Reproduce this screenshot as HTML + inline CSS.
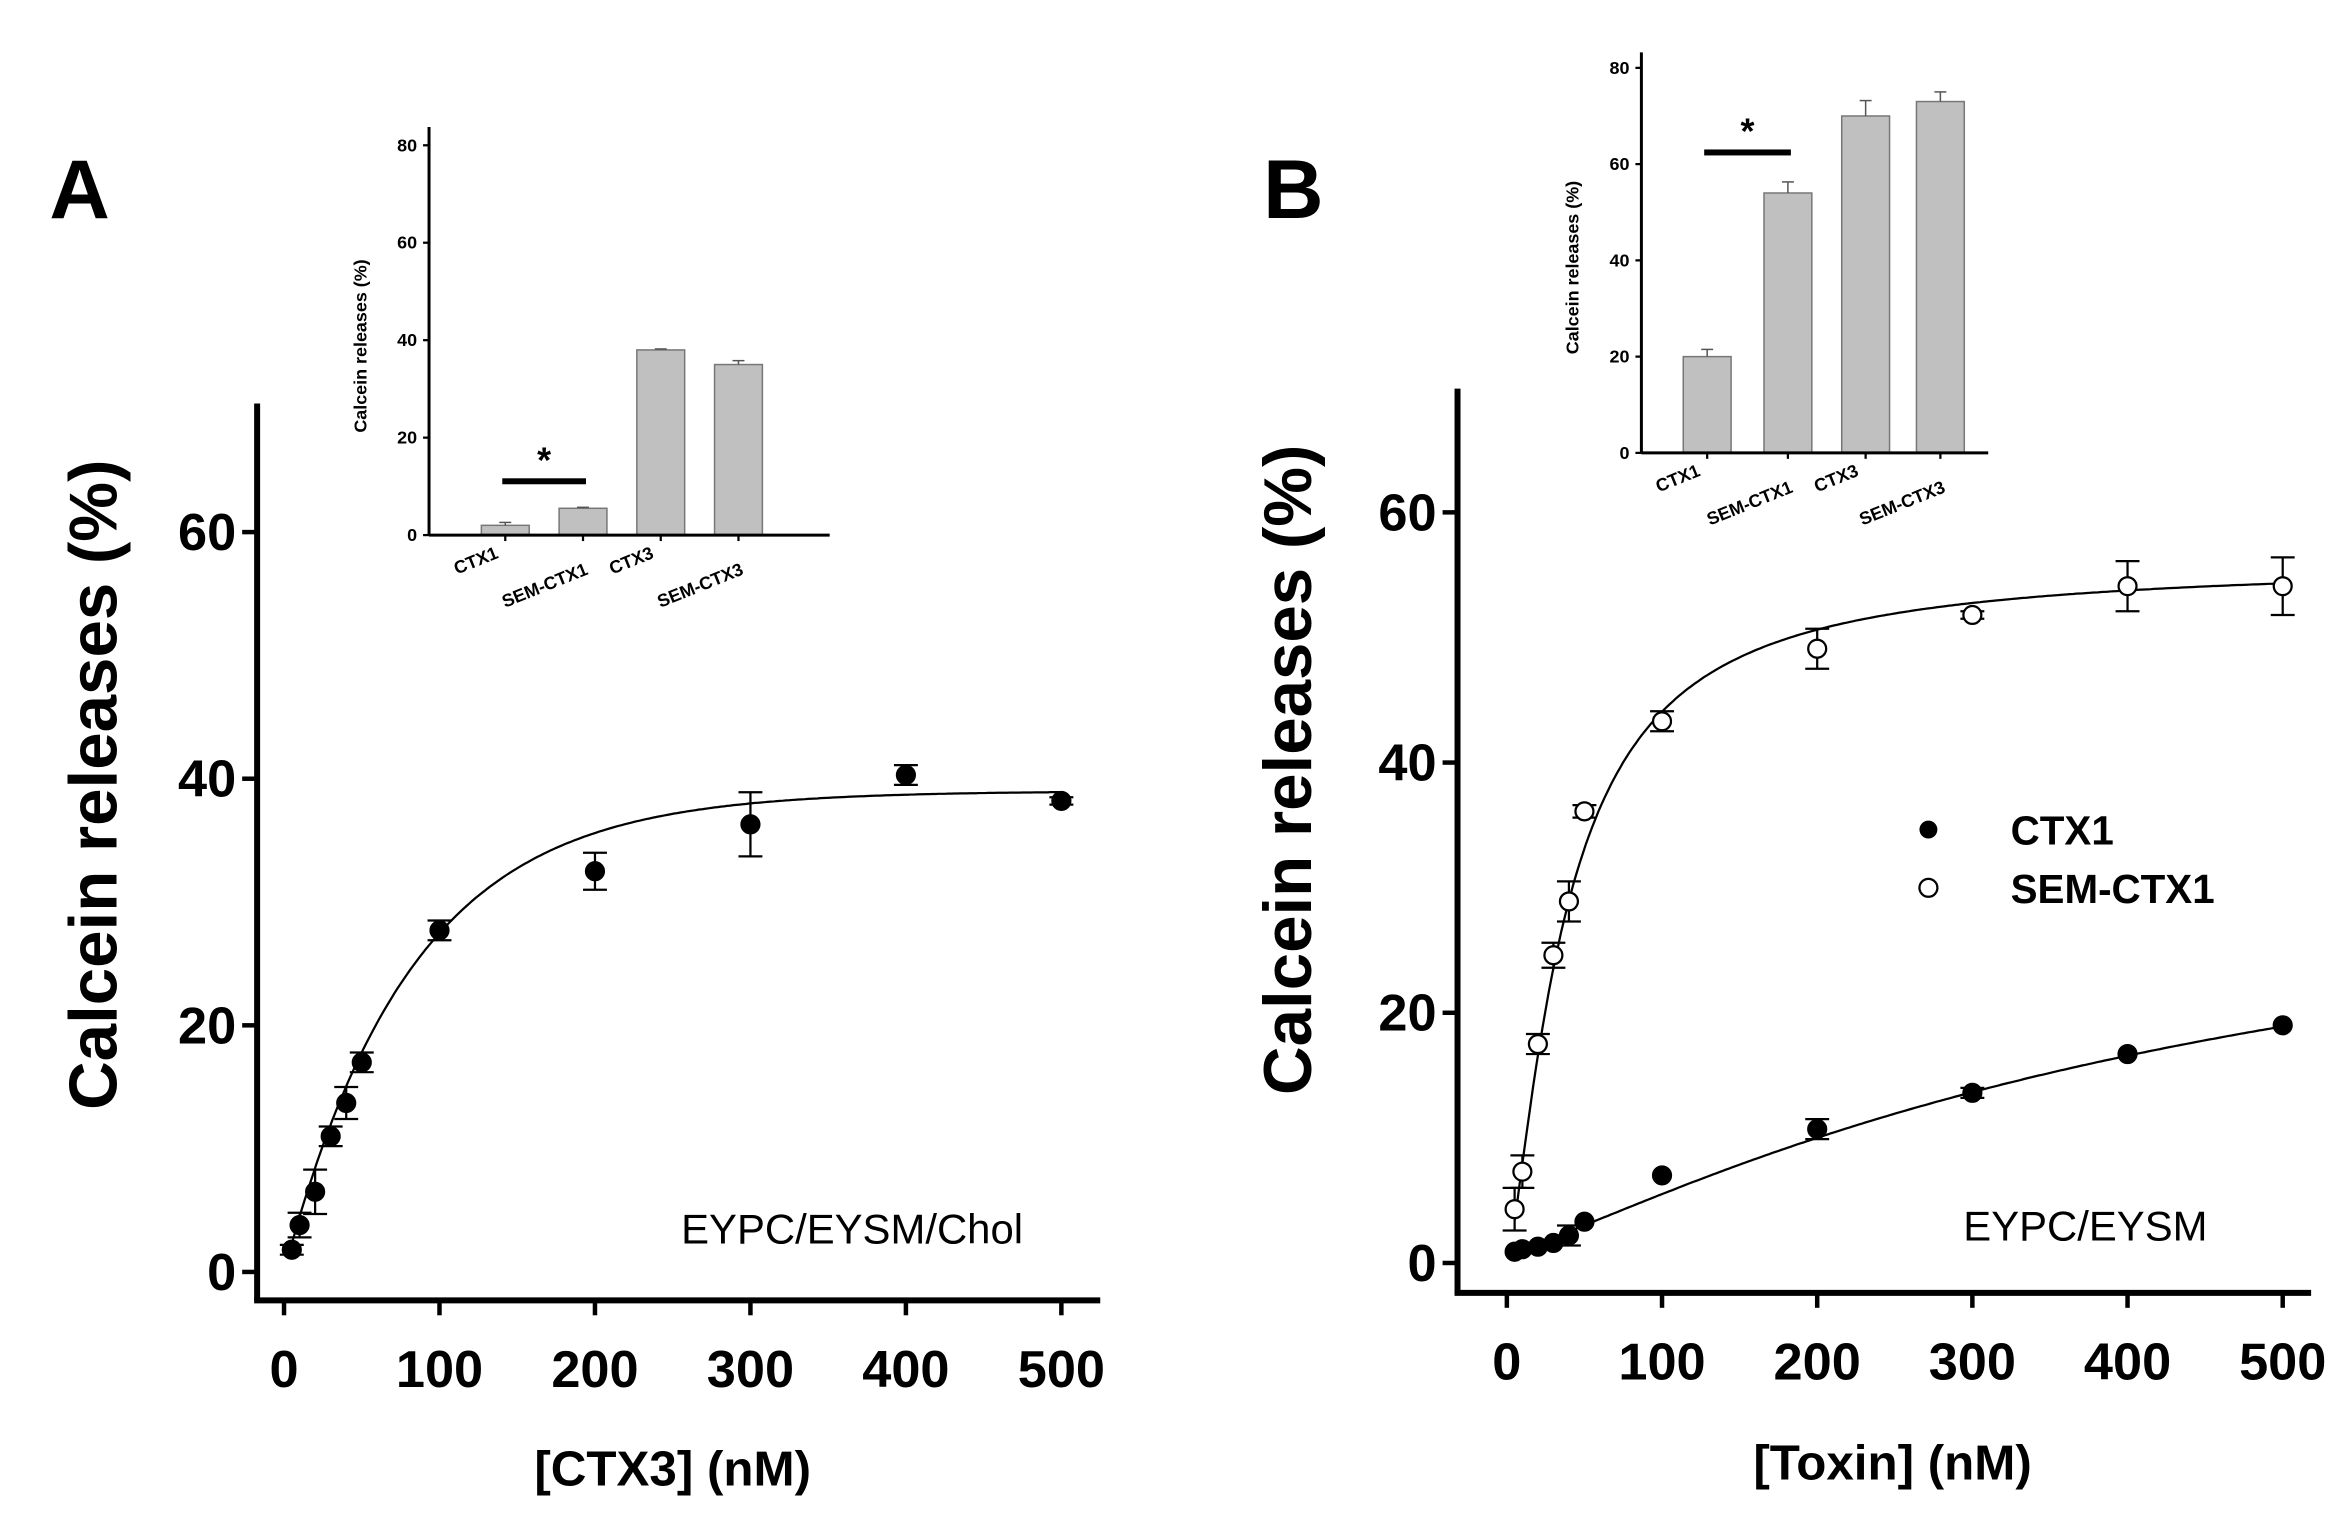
<!DOCTYPE html>
<html><head><meta charset="utf-8"><style>
html,body{margin:0;padding:0;background:#fff;}
svg{display:block;}
text{font-family:"Liberation Sans",Arial,sans-serif;}
</style></head><body>
<svg id="s" width="2344" height="1538" viewBox="0 0 1568 1029" preserveAspectRatio="none" xmlns="http://www.w3.org/2000/svg">
<rect width="1568" height="1029" fill="#fff"/>
<text x="33" y="146" font-size="56" font-weight="bold">A</text>
<text x="845" y="146" font-size="56" font-weight="bold">B</text>
<text x="570" y="832" font-size="28" text-anchor="middle">EYPC/EYSM/Chol</text>
<text x="1395" y="830" font-size="28" text-anchor="middle">EYPC/EYSM</text>
<text x="450" y="994" font-size="33" font-weight="bold" text-anchor="middle">[CTX3] (nM)</text>
<text x="1266" y="990" font-size="33" font-weight="bold" text-anchor="middle">[Toxin] (nM)</text>
<text transform="translate(78,525) rotate(-90)" font-size="45" font-weight="bold" text-anchor="middle">Calcein releases (%)</text>
<text transform="translate(877,515) rotate(-90)" font-size="45" font-weight="bold" text-anchor="middle">Calcein releases (%)</text>
<circle cx="1290" cy="555" r="6" fill="#000"/>
<text x="1345" y="565" font-size="27" font-weight="bold">CTX1</text>
<circle cx="1290" cy="594" r="6" fill="#fff" stroke="#000" stroke-width="1.5"/>
<text x="1345" y="604" font-size="27" font-weight="bold">SEM-CTX1</text>
<g id="g"></g>
</svg>
<script>
const NS="http://www.w3.org/2000/svg",g=document.getElementById('g');
function el(t,a,txt){const e=document.createElementNS(NS,t);for(const k in a)e.setAttribute(k,a[k]);if(txt!=null)e.textContent=txt;g.appendChild(e);return e;}
function line(x1,y1,x2,y2,w,c){el('line',{x1,y1,x2,y2,stroke:c||'#000','stroke-width':w});}
function panel(P){
 const X=v=>P.x0+v*P.dx, Y=v=>P.y0-v*P.dy;
 line(P.ax,P.atop,P.ax,P.ay,4);line(P.ax-2,P.ay,P.axr,P.ay,4);
 for(let v=0;v<=60;v+=20){line(P.ax-10,Y(v),P.ax,Y(v),3);el('text',{x:P.ax-14,y:Y(v)+12,'font-size':35,'font-weight':'bold','text-anchor':'end'},v);}
 for(let v=0;v<=500;v+=100){line(X(v),P.ay,X(v),P.ay+10,3);el('text',{x:X(v),y:P.ay+58,'font-size':35,'font-weight':'bold','text-anchor':'middle'},v);}
 P.series.forEach(S=>{
  let d='';for(let x=5;x<=500;x+=2){d+=(d?'L':'M')+X(x).toFixed(1)+','+Y(S.f(x)).toFixed(1);}
  el('path',{d,fill:'none',stroke:'#000','stroke-width':1.5});
  S.pts.forEach(p=>{const[x,y,e]=p;
   if(e){line(X(x),Y(y+e),X(x),Y(y-e),1.5);line(X(x)-8,Y(y+e),X(x)+8,Y(y+e),1.5);line(X(x)-8,Y(y-e),X(x)+8,Y(y-e),1.5);}
   el('circle',{cx:X(x),cy:Y(y),r:6,fill:S.open?'#fff':'#000',stroke:'#000','stroke-width':1.5});});
 });
}
panel({x0:190,dx:1.04,y0:851,dy:8.25,ax:172,atop:270,ay:870,axr:736,series:[
 {f:x=>39*(1-Math.exp(-x/82)),pts:[[5,1.8,0.4],[10,3.8,1.0],[20,6.5,1.8],[30,11,0.8],[40,13.7,1.3],[50,17,0.8],[100,27.7,0.8],[200,32.5,1.5],[300,36.3,2.6],[400,40.3,0.8],[500,38.2,0.3]]}]});
panel({x0:1008,dx:1.038,y0:845,dy:8.37,ax:975,atop:260,ay:865,axr:1546,series:[
 {open:true,f:x=>56*Math.pow(x,1.35)/(Math.pow(38,1.35)+Math.pow(x,1.35)),pts:[[5,4.3,1.7],[10,7.3,1.3],[20,17.5,0.8],[30,24.6,1],[40,28.9,1.6],[50,36.1,0.5],[100,43.3,0.8],[200,49.1,1.6],[300,51.8,0.3],[400,54.1,2],[500,54.1,2.3]]},
 {f:x=>0.8+35*Math.pow(x,1.2)/(Math.pow(472,1.2)+Math.pow(x,1.2)),pts:[[5,0.9],[10,1.1],[20,1.3],[30,1.6],[40,2.2,0.8],[50,3.3],[100,7],[200,10.7,0.8],[300,13.6,0.4],[400,16.7],[500,19]]}]});
function inset(I){
 const Y=v=>I.y0-v*I.dy;
 I.bars.forEach((b,i)=>{const cx=I.cx[i];
  el('rect',{x:cx-16,y:Y(b[0]),width:32,height:I.y0-Y(b[0]),fill:'#c0c0c0',stroke:'#777','stroke-width':1});
  line(cx,Y(b[0]),cx,Y(b[0]+b[1]),1,'#555');line(cx-4,Y(b[0]+b[1]),cx+4,Y(b[0]+b[1]),1,'#555');
  line(cx,I.y0,cx,I.y0+4,1.5);
  el('text',{transform:`translate(${cx+(i%2?4:-4)},${I.y0+(i%2?26:15)}) rotate(-22)`,'font-size':12,'font-weight':'bold','text-anchor':'end'},I.labels[i]);
 });
 line(I.ax,I.top,I.ax,I.y0,2);line(I.ax,I.y0,I.right,I.y0,2);
 for(let v=0;v<=80;v+=20){line(I.ax-4,Y(v),I.ax,Y(v),1.5);el('text',{x:I.ax-8,y:Y(v)+4,'font-size':12,'font-weight':'bold','text-anchor':'end'},v);}
 el('text',{transform:`translate(${I.ax-42},${(I.top+I.y0)/2+10}) rotate(-90)`,'font-size':12,'font-weight':'bold','text-anchor':'middle'},'Calcein releases (%)');
 el('rect',{x:I.cx[0]-2,y:I.starY-2,width:I.cx[1]-I.cx[0]+4,height:4,fill:'#000'});
 el('text',{x:(I.cx[0]+I.cx[1])/2,y:I.starY-6,'font-size':24,'font-weight':'bold','text-anchor':'middle'},'*');
}
const L=['CTX1','SEM-CTX1','CTX3','SEM-CTX3'];
inset({ax:287,top:85,y0:358,dy:3.26,right:555,cx:[338,390,442,494],bars:[[2,0.6],[5.5,0.2],[38,0.2],[35,0.8]],labels:L,starY:322});
inset({ax:1098,top:35,y0:303,dy:3.22,right:1330,cx:[1142,1196,1248,1298],bars:[[20,1.5],[54,2.3],[70,3.2],[73,2]],labels:L,starY:102});
</script>
</body></html>
